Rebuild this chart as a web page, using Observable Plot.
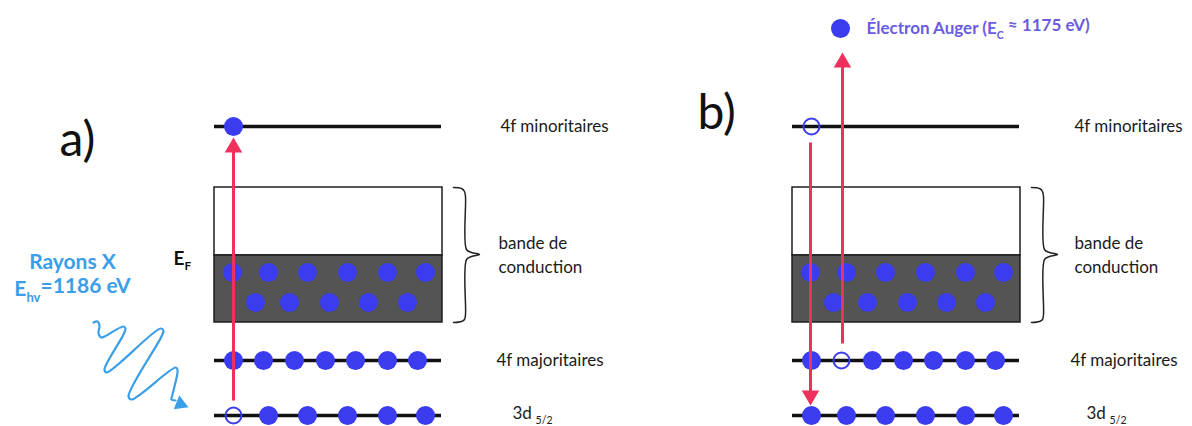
<!DOCTYPE html>
<html><head><meta charset="utf-8">
<script src="https://cdn.jsdelivr.net/npm/d3@7"></script>
<script src="https://cdn.jsdelivr.net/npm/@observablehq/plot@0.6"></script>
<style>body{margin:0;background:#fff}#chart svg{display:block}</style>
</head><body><div id="chart"></div>
<script>
// ---- Data (diagram units: x = state slot, y = energy axis, downward) ----
const panelNames = ["a)", "b)"];
const panelShift = [0, 578];
const levelNames = ["4f minoritaires", "4f majoritaires", "3d_{5/2}"];
const levelEnergy = [126, 360, 415];
const bandTop = 187, fermiLevel = 255, bandBottom = 322;
const levelStart = 214, levelEnd = 441;
const slots4fMin = [233];
const slots4fMaj = [233, 263, 294, 325, 355, 387, 417];
const slots3d = [233, 268, 307, 347, 387, 425];
const bandRow1 = [232, 268, 307, 347, 387, 425];
const bandRow2 = [255, 289, 329, 368, 407];
const bandRowEnergy = [272, 302];
// occupancy (1 = electron, 0 = hole)
const occ4fMin = [[1], [0]];
const occ4fMaj = [[1, 1, 1, 1, 1, 1, 1], [1, 0, 1, 1, 1, 1, 1]];
const occ3d = [[0, 1, 1, 1, 1, 1], [1, 1, 1, 1, 1, 1]];
// transitions [panel, x, from, to]
const transPanel = [0, 1, 1];
const transX = [233, 232, 264];
const transFrom = [400, 142, 343];
const transTo = [138, 404, 53];
// Auger electron
const augerX = 262, augerE = 28;
const augerLabel = "Électron Auger (E_{C} ≈ 1175 eV)";
// X-ray photon
const photonLabel = ["Rayons X", "E_{hv}=1186 eV"];
const waveX = [93, 97, 99, 98, 101, 104, 123, 125, 123, 104, 106, 160, 163, 161, 128, 131, 175, 177, 172, 171, 175];
const waveY = [322, 321, 325, 333, 337, 336, 326, 328, 334, 369, 372, 328, 330, 336, 396, 399, 367, 369, 394, 399, 400];
const waveTip = [186, 406];

// ---- Build tables ----
const electrons = [];
[0, 1].forEach(p => {
  const s = panelShift[p];
  slots4fMin.forEach((x, i) => electrons.push({x: x + s, y: levelEnergy[0], f: occ4fMin[p][i]}));
  slots4fMaj.forEach((x, i) => electrons.push({x: x + s, y: levelEnergy[1], f: occ4fMaj[p][i]}));
  slots3d.forEach((x, i) => electrons.push({x: x + s, y: levelEnergy[2], f: occ3d[p][i]}));
  bandRow1.forEach(x => electrons.push({x: x + s, y: bandRowEnergy[0], f: 1}));
  bandRow2.forEach(x => electrons.push({x: x + s, y: bandRowEnergy[1], f: 1}));
});
electrons.push({x: augerX + panelShift[1], y: augerE, f: 1});
const bandElectrons = electrons.filter(d => d.y === bandRowEnergy[0] || d.y === bandRowEnergy[1]);
const levelElectrons = electrons.filter(d => !bandElectrons.includes(d));

const levelRules = [];
[0, 1].forEach(p => levelEnergy.forEach(y => levelRules.push({x1: levelStart + panelShift[p], x2: levelEnd + panelShift[p], y})));
const bands = [0, 1].map(p => ({x1: levelStart + panelShift[p], x2: levelEnd + panelShift[p] + 1}));

const arrows = transX.map((x, i) => ({x: x + panelShift[transPanel[i]], y1: transFrom[i], y2: transTo[i], up: transTo[i] < transFrom[i]}));

// brace shape relative to panel
const braceX = [453, 461, 464, 465, 466, 471, 479, 471, 466, 465, 464, 461, 453];
const braceY = [187, 188, 191, 196, 249, 252, 254, 256, 259, 314, 319, 321, 322];
const braces = [];
[0, 1].forEach(p => braceX.forEach((x, i) => braces.push({x: x + panelShift[p], y: braceY[i], p})));

const labelX = [500, 496, 512];
const labels = [];
[0, 1].forEach(p => {
  levelNames.forEach((t, i) => labels.push({x: labelX[i] + panelShift[p] - (p ? 4 : 0), y: levelEnergy[i] + (i === 2 ? -2 : 0), t}));
  labels.push({x: 498 + panelShift[p] - (p ? 2 : 0), y: 243, t: "bande de"});
  labels.push({x: 498 + panelShift[p] - (p ? 2 : 0), y: 267, t: "conduction"});
});

const wave = waveX.map((x, i) => ({x, y: waveY[i]}));

const font = "Lato, 'Open Sans', sans-serif";
const blue = "#3b3bef", red = "#f0305c", sky = "#3a9ee8";

const plot = Plot.plot({
  width: 1192, height: 426,
  margin: 0,
  x: {domain: [0, 1192], range: [0, 1192], axis: null},
  y: {domain: [0, 426], range: [0, 426], axis: null},
  style: {background: "#fff"},
  marks: [
    Plot.rect(bands, {x1: "x1", x2: "x2", y1: bandTop, y2: fermiLevel, fill: "#fff", stroke: "#1e1e1e", strokeWidth: 1.5}),
    Plot.rect(bands, {x1: "x1", x2: "x2", y1: fermiLevel, y2: bandBottom, fill: "#545454", stroke: "#1e1e1e", strokeWidth: 1.5}),
    Plot.line(braces, {x: "x", y: "y", z: "p", stroke: "#222", strokeWidth: 1.5, curve: "catmull-rom"}),
    Plot.ruleY(levelRules, {x1: "x1", x2: "x2", y: "y", stroke: "#111", strokeWidth: 3.5}),
    Plot.dot(bandElectrons, {x: "x", y: "y", r: 9.5, fill: blue}),
    Plot.dot(levelElectrons.filter(d => d.f), {x: "x", y: "y", r: 9.5, fill: blue}),
    Plot.dot(levelElectrons.filter(d => !d.f), {x: "x", y: "y", r: 8, fill: "none", stroke: blue, strokeWidth: 2}),
    Plot.link(arrows, {x1: "x", x2: "x", y1: "y1", y2: d => d.y2 + (d.up ? 8 : -8), stroke: red, strokeWidth: 3}),
    Plot.dot(arrows.filter(d => d.up), {x: "x", y: d => d.y2 + 9, symbol: "triangle", r: 6.5, fill: red, stroke: "none"}),
    Plot.dot(arrows.filter(d => !d.up), {x: "x", y: d => d.y2 - 9, symbol: "triangle", r: 6.5, fill: red, stroke: "none", rotate: 180}),
    Plot.line(wave, {x: "x", y: "y", stroke: sky, strokeWidth: 2.2, curve: "catmull-rom", strokeLinejoin: "round"}),
    Plot.dot([waveTip], {x: d => d[0] - 6, y: d => d[1] - 2.5, symbol: "triangle", r: 5.5, fill: sky, rotate: 112}),
    Plot.text(labels, {x: "x", y: "y", text: "t", textAnchor: "start", fontSize: 17, fill: "#1a1a1a", fontFamily: font}),
    Plot.text(panelNames, {x: (d, i) => [59, 697][i], y: (d, i) => [140, 113][i], text: d => d, textAnchor: "start", fontSize: 48, fill: "#111", fontFamily: font}),
    Plot.text(["E_{F}"], {x: 173, y: 258, text: d => d, textAnchor: "start", fontSize: 19, fontWeight: "bold", fill: "#111", fontFamily: font}),
    Plot.text(photonLabel, {x: 72, y: (d, i) => [262, 289][i], text: d => d, textAnchor: "middle", fontSize: 21, fontWeight: "bold", fill: sky, fontFamily: font}),
    Plot.text([augerLabel], {x: 866, y: 28, text: d => d, textAnchor: "start", fontSize: 17, fontWeight: "bold", fill: "#6a5ce2", fontFamily: font})
  ]
});
// render "_{...}" as subscripts
d3.select(plot).selectAll("text").each(function() {
  const t = this.textContent;
  if (!t.includes("_{")) return;
  const parts = t.split(/_\{([^}]*)\}/);
  const el = d3.select(this);
  el.text(null);
  parts.forEach((s, i) => {
    if (!s) return;
    const sub = i % 2 === 1;
    const span = el.append("tspan").text(s);
    if (sub) span.attr("font-size", "0.62em").attr("dy", "0.45em").attr("dx", t.startsWith("3d") ? "0.35em" : null);
    else if (i > 0) span.attr("dy", "-0.45em");
  });
});
document.getElementById("chart").append(plot);
</script></body></html>
